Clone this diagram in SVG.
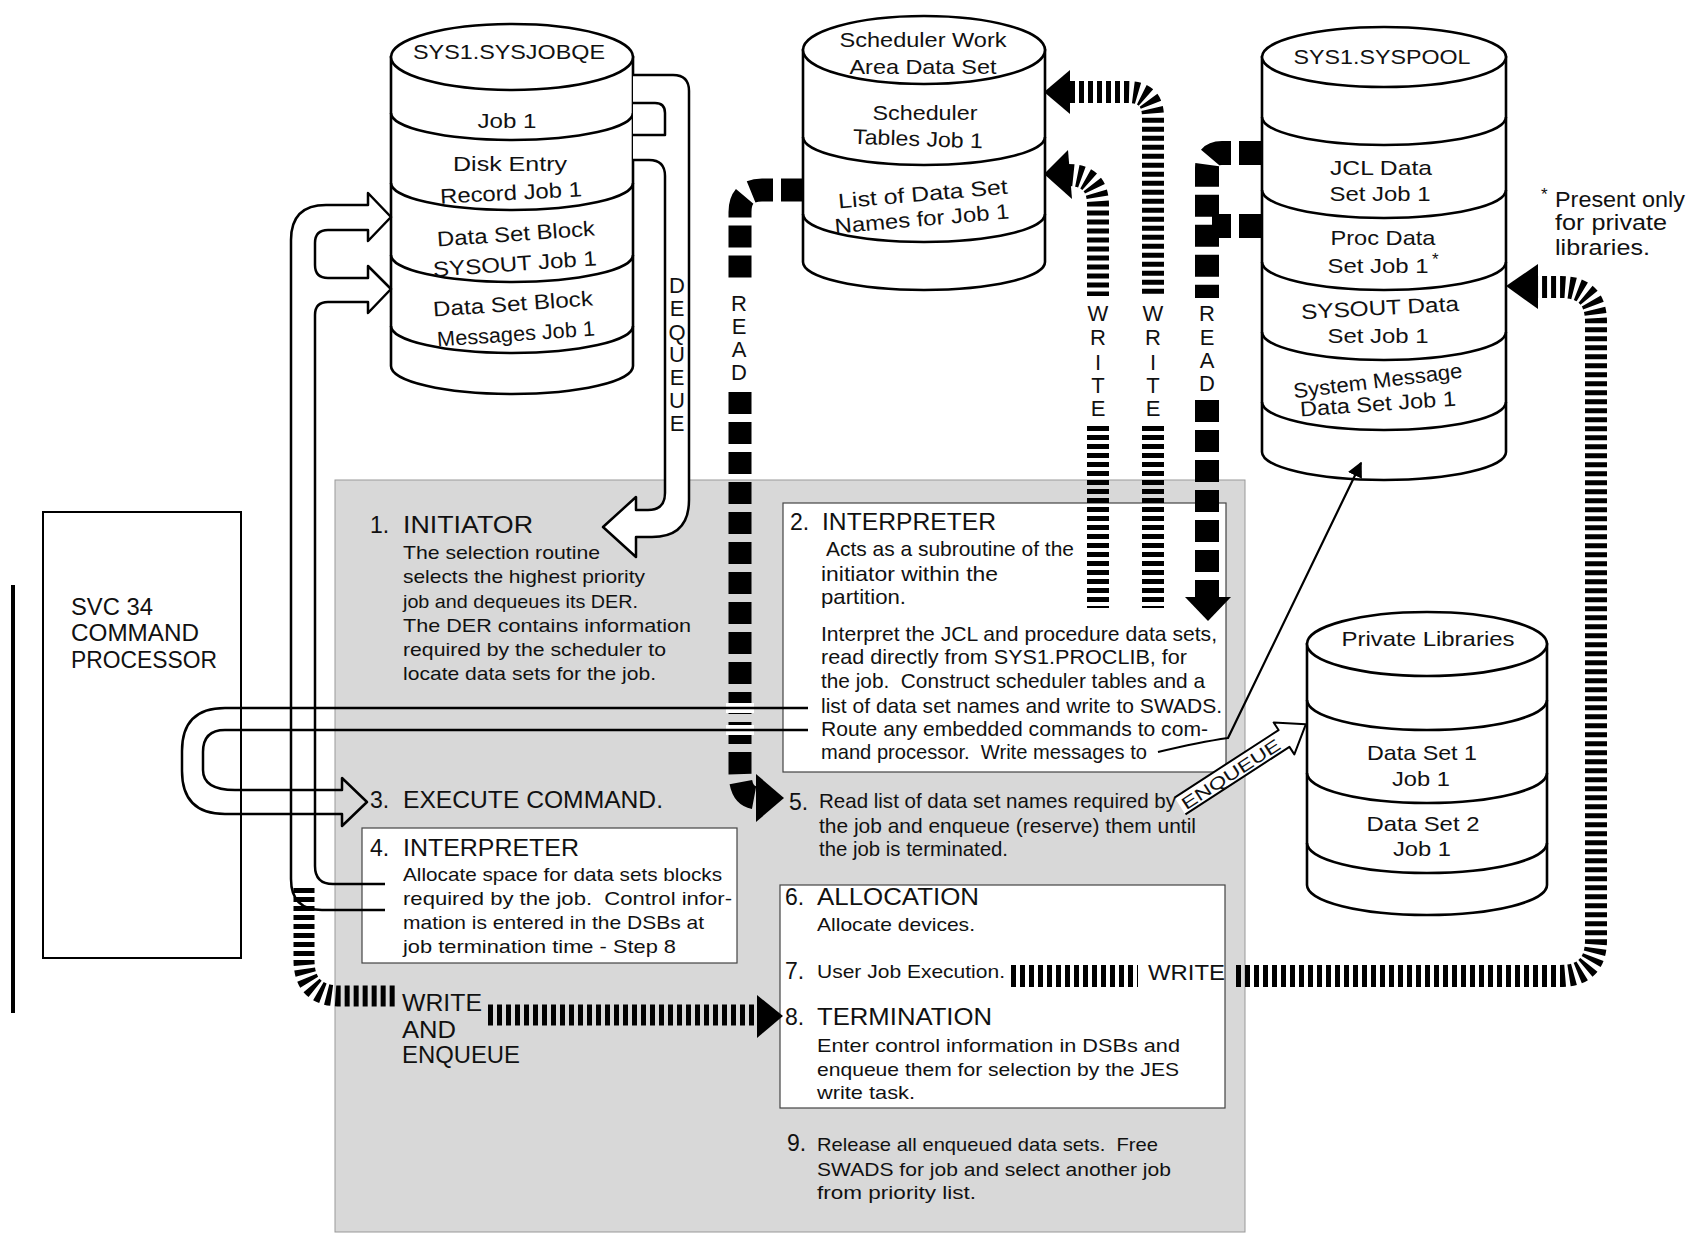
<svg xmlns="http://www.w3.org/2000/svg" width="1708" height="1233" viewBox="0 0 1708 1233">
<defs>
<style>
text { font-family: "Liberation Sans", Arial, sans-serif; fill:#111; white-space: pre; }
.c { font-size:19px; }
.w { font-size:21px; }
.h { font-size:23px; }
.cy { font-size:21px; text-anchor:middle; }
.v { font-size:22px; text-anchor:middle; }
.cyl { fill:#fff; stroke:#000; stroke-width:2.6; }
.band { fill:none; stroke:#000; stroke-width:2.6; }
.box { fill:#fff; stroke:#444; stroke-width:1.2; }
.hol { fill:none; stroke:#000; stroke-width:2.5; stroke-linejoin:round; }
.lad { fill:none; stroke:#000; stroke-width:22; stroke-dasharray:5 4; }
.thk { fill:none; stroke:#000; stroke-width:23; stroke-dasharray:22 8; }
.thin { fill:none; stroke:#000; stroke-width:2.2; }
</style>
<marker id="ah" viewBox="0 0 10 10" refX="9" refY="5" markerWidth="7" markerHeight="7" orient="auto">
<path d="M0,0 L10,5 L0,10 z" fill="#000"/>
</marker>
</defs>
<rect width="1708" height="1233" fill="#fff"/>

<g id="panel">
<rect x="335" y="480" width="910" height="752" fill="#d8d8d8" stroke="#999" stroke-width="1"/>
<rect class="box" x="783" y="503" width="443" height="269"/>
<rect class="box" x="362" y="828" width="375" height="135"/>
<rect class="box" x="780" y="885" width="445" height="223"/>
</g>

<g id="svc34">
<line x1="13" y1="585" x2="13" y2="1013" stroke="#000" stroke-width="4"/>
<rect x="43" y="512" width="198" height="446" fill="#fff" stroke="#000" stroke-width="2"/>
<text class="h" x="71" y="615" textLength="82" lengthAdjust="spacingAndGlyphs">SVC 34</text>
<text class="h" x="71" y="641" textLength="128" lengthAdjust="spacingAndGlyphs">COMMAND</text>
<text class="h" x="71" y="668" textLength="146" lengthAdjust="spacingAndGlyphs">PROCESSOR</text>
</g>

<g id="sysjobqe">
<path class="cyl" d="M391,57 V366 A121 28 0 0 0 633,366 V57 Z"/>
<ellipse class="cyl" cx="512" cy="57" rx="121" ry="33"/>
<path class="band" d="M391,113 A121 27 0 0 0 633,113 M391,183 A121 27 0 0 0 633,183 M391,255 A121 27 0 0 0 633,255 M391,326 A121 27 0 0 0 633,326"/>
<text class="cy" x="509" y="59" textLength="192" lengthAdjust="spacingAndGlyphs">SYS1.SYSJOBQE</text>
<text class="cy" x="507" y="128" textLength="59" lengthAdjust="spacingAndGlyphs">Job 1</text>
<text class="cy" x="510" y="171" textLength="114" lengthAdjust="spacingAndGlyphs">Disk Entry</text>
<text class="cy" x="511" y="200" textLength="142" lengthAdjust="spacingAndGlyphs" transform="rotate(-3 511 194)">Record Job 1</text>
<text class="cy" x="516" y="241" textLength="158" lengthAdjust="spacingAndGlyphs" transform="rotate(-4 516 235)">Data Set Block</text>
<text class="cy" x="515" y="271" textLength="164" lengthAdjust="spacingAndGlyphs" transform="rotate(-4 515 265)">SYSOUT Job 1</text>
<text class="cy" x="513" y="311" textLength="160" lengthAdjust="spacingAndGlyphs" transform="rotate(-4 513 305)">Data Set Block</text>
<text class="cy" x="516" y="341" textLength="158" lengthAdjust="spacingAndGlyphs" transform="rotate(-4 516 335)">Messages Job 1</text>
</g>

<g id="swads">
<path class="cyl" d="M803,50 V262 A121 28 0 0 0 1045,262 V50 Z"/>
<ellipse class="cyl" cx="924" cy="50" rx="121" ry="34"/>
<path class="band" d="M803,137 A121 28 0 0 0 1045,137 M803,214 A121 28 0 0 0 1045,214"/>
<text class="cy" x="923" y="47" textLength="167" lengthAdjust="spacingAndGlyphs">Scheduler Work</text>
<text class="cy" x="923" y="74" textLength="147" lengthAdjust="spacingAndGlyphs">Area Data Set</text>
<text class="cy" x="925" y="120" textLength="105" lengthAdjust="spacingAndGlyphs">Scheduler</text>
<text class="cy" x="918" y="146" textLength="130" lengthAdjust="spacingAndGlyphs" transform="rotate(2 918 140)">Tables Job 1</text>
<text class="cy" x="923" y="201" textLength="170" lengthAdjust="spacingAndGlyphs" transform="rotate(-5 923 195)">List of Data Set</text>
<text class="cy" x="922" y="226" textLength="175" lengthAdjust="spacingAndGlyphs" transform="rotate(-5 922 220)">Names for Job 1</text>
</g>

<g id="syspool">
<path class="cyl" d="M1262,57 V452 A122 28 0 0 0 1506,452 V57 Z"/>
<ellipse class="cyl" cx="1384" cy="57" rx="122" ry="30"/>
<path class="band" d="M1262,117 A122 28 0 0 0 1506,117 M1262,190 A122 28 0 0 0 1506,190 M1262,262 A122 28 0 0 0 1506,262 M1262,332 A122 28 0 0 0 1506,332 M1262,402 A122 28 0 0 0 1506,402"/>
<text class="cy" x="1382" y="64" textLength="177" lengthAdjust="spacingAndGlyphs">SYS1.SYSPOOL</text>
<text class="cy" x="1381" y="175" textLength="102" lengthAdjust="spacingAndGlyphs">JCL Data</text>
<text class="cy" x="1380" y="201" textLength="101" lengthAdjust="spacingAndGlyphs">Set Job 1</text>
<text class="cy" x="1383" y="245" textLength="105" lengthAdjust="spacingAndGlyphs">Proc Data</text>
<text class="cy" x="1378" y="273" textLength="101" lengthAdjust="spacingAndGlyphs">Set Job 1</text>
<text x="1432" y="265" font-size="17">*</text>
<text class="cy" x="1380" y="315" textLength="158" lengthAdjust="spacingAndGlyphs" transform="rotate(-3 1380 309)">SYSOUT Data</text>
<text class="cy" x="1378" y="343" textLength="101" lengthAdjust="spacingAndGlyphs">Set Job 1</text>
<text class="cy" x="1378" y="388" textLength="170" lengthAdjust="spacingAndGlyphs" transform="rotate(-7 1378 382)">System Message</text>
<text class="cy" x="1378" y="411" textLength="156" lengthAdjust="spacingAndGlyphs" transform="rotate(-4 1378 405)">Data Set Job 1</text>
</g>

<g id="note">
<text x="1541" y="200" font-size="17">*</text>
<text x="1555" y="207" font-size="22" textLength="130" lengthAdjust="spacingAndGlyphs">Present only</text>
<text x="1555" y="230" font-size="22" textLength="112" lengthAdjust="spacingAndGlyphs">for private</text>
<text x="1555" y="255" font-size="22" textLength="95" lengthAdjust="spacingAndGlyphs">libraries.</text>
</g>

<g id="private">
<path class="cyl" d="M1307,644 V885 A120 30 0 0 0 1547,885 V644 Z"/>
<ellipse class="cyl" cx="1427" cy="644" rx="120" ry="32"/>
<path class="band" d="M1307,700 A120 30 0 0 0 1547,700 M1307,773 A120 30 0 0 0 1547,773 M1307,843 A120 30 0 0 0 1547,843"/>
<text class="cy" x="1428" y="646" textLength="173" lengthAdjust="spacingAndGlyphs">Private Libraries</text>
<text class="cy" x="1422" y="760" textLength="110" lengthAdjust="spacingAndGlyphs">Data Set 1</text>
<text class="cy" x="1421" y="786" textLength="58" lengthAdjust="spacingAndGlyphs">Job 1</text>
<text class="cy" x="1423" y="831" textLength="113" lengthAdjust="spacingAndGlyphs">Data Set 2</text>
<text class="cy" x="1422" y="856" textLength="58" lengthAdjust="spacingAndGlyphs">Job 1</text>
</g>

<g id="connectors">
<path class="hol" style="fill:#fff" d="M633,75 H673 Q689,75 689,91 V500 Q689,537 652,537 H636 V557 L603,527 L636,497 V510 H648 Q665,510 665,493 V176 Q665,160 649,160 H633"/>
<path class="hol" d="M633,103 H655 Q665,103 665,113 V135 H633"/>
<path class="hol" d="M385,910 H322 Q291,910 291,879 V240 Q291,205 326,205 H368 V193 L391,217 L368,241 V230 H328 Q315,230 315,243 V265 Q315,278 328,278 H368 V266 L391,289 L368,313 V302 H328 Q315,302 315,315 V866 Q315,884 333,884 H385"/>
<path class="thk" d="M803,190 H762 Q740,190 740,212 V283 M740,392 V772 Q740,798 758,798"/>
<polygon points="756,774 784,798 756,822" fill="#000"/>
<rect x="726" y="703" width="28" height="10" fill="#fff"/>
<rect x="726" y="725" width="28" height="10" fill="#fff"/>
<path class="hol" d="M808,708 H225 Q182,708 182,751 V771 Q182,814 225,814 H342 V826 L367,802 L342,778 V790 H235 Q203,790 203,770 V752 Q203,730 225,730 H808"/>
<path class="lad" d="M1070,92 H1128 Q1153,92 1153,117 V296 M1153,426 V608"/>
<polygon points="1070,70 1044,92 1070,114" fill="#000"/>
<path class="lad" d="M1068,175 Q1098,175 1098,205 V296 M1098,426 V608"/>
<polygon points="1068,150 1044,174 1072,199" fill="#000"/>
<path class="thk" style="stroke-width:24" d="M1261,153 H1222 Q1207,153 1207,168 V298 M1207,400 V597 M1261,226 H1212"/>
<polygon points="1185,597 1231,597 1208,621" fill="#000"/>
<path class="thin" d="M1158,752 Q1200,742 1228,738 L1361,463" marker-end="url(#ah)"/>
<path class="lad" d="M1011,976 H1138 M1236,976 H1560 Q1596,976 1596,940 V322 Q1596,287 1561,287 H1537"/>
<polygon points="1538,264 1506,286 1538,309" fill="#000"/>
<path class="lad" style="stroke-width:21" d="M304,888 V960 Q304,996 340,996 H398 M488,1015 H758"/>
<polygon points="757,995 783,1016 757,1038" fill="#000"/>
<g transform="translate(1180,806) rotate(-33)">
<path d="M0,-10 H124 V-19 L150,0 L124,19 V10 H0 Z" fill="#fff"/>
<path class="hol" style="stroke-width:2" d="M0,-10 H124 V-19 L150,0 L124,19 V10 H0"/>
<text x="3" y="7" font-size="17" textLength="114" lengthAdjust="spacingAndGlyphs">ENQUEUE</text>
</g>
</g>

<g id="vlabels">
<text class="v" x="677" y="293">D</text><text class="v" x="677" y="316">E</text><text class="v" x="677" y="340">Q</text><text class="v" x="677" y="362">U</text><text class="v" x="677" y="385">E</text><text class="v" x="677" y="408">U</text><text class="v" x="677" y="431">E</text>
<text class="v" x="739" y="311">R</text><text class="v" x="739" y="334">E</text><text class="v" x="739" y="357">A</text><text class="v" x="739" y="380">D</text>
<text class="v" x="1098" y="321">W</text><text class="v" x="1098" y="345">R</text><text class="v" x="1098" y="370">I</text><text class="v" x="1098" y="393">T</text><text class="v" x="1098" y="416">E</text>
<text class="v" x="1153" y="321">W</text><text class="v" x="1153" y="345">R</text><text class="v" x="1153" y="370">I</text><text class="v" x="1153" y="393">T</text><text class="v" x="1153" y="416">E</text>
<text class="v" x="1207" y="321">R</text><text class="v" x="1207" y="345">E</text><text class="v" x="1207" y="368">A</text><text class="v" x="1207" y="391">D</text>
</g>

<g id="step1">
<text class="h" x="370" y="533">1.</text>
<text class="h" x="403" y="533" textLength="130" lengthAdjust="spacingAndGlyphs">INITIATOR</text>
<text class="c" x="403" y="559" textLength="197" lengthAdjust="spacingAndGlyphs">The selection routine</text>
<text class="c" x="403" y="583" textLength="242" lengthAdjust="spacingAndGlyphs">selects the highest priority</text>
<text class="c" x="403" y="608" textLength="235" lengthAdjust="spacingAndGlyphs">job and dequeues its DER.</text>
<text class="c" x="403" y="632" textLength="288" lengthAdjust="spacingAndGlyphs">The DER contains information</text>
<text class="c" x="403" y="656" textLength="263" lengthAdjust="spacingAndGlyphs">required by the scheduler to</text>
<text class="c" x="403" y="680" textLength="253" lengthAdjust="spacingAndGlyphs">locate data sets for the job.</text>
</g>

<g id="step2">
<text class="h" x="790" y="530">2.</text>
<text class="h" x="822" y="530" textLength="174" lengthAdjust="spacingAndGlyphs">INTERPRETER</text>
<text class="w" x="826" y="556" textLength="248" lengthAdjust="spacingAndGlyphs">Acts as a subroutine of the</text>
<text class="w" x="821" y="581" textLength="177" lengthAdjust="spacingAndGlyphs">initiator within the</text>
<text class="w" x="821" y="604" textLength="85" lengthAdjust="spacingAndGlyphs">partition.</text>
<text class="w" x="821" y="641" textLength="396" lengthAdjust="spacingAndGlyphs">Interpret the JCL and procedure data sets,</text>
<text class="w" x="821" y="664" textLength="366" lengthAdjust="spacingAndGlyphs">read directly from SYS1.PROCLIB, for</text>
<text class="w" x="821" y="688" textLength="384" lengthAdjust="spacingAndGlyphs">the job.  Construct scheduler tables and a</text>
<text class="w" x="821" y="713" textLength="401" lengthAdjust="spacingAndGlyphs">list of data set names and write to SWADS.</text>
<text class="w" x="821" y="736" textLength="387" lengthAdjust="spacingAndGlyphs">Route any embedded commands to com-</text>
<text class="w" x="821" y="759" textLength="326" lengthAdjust="spacingAndGlyphs">mand processor.  Write messages to</text>
</g>

<g id="step3">
<text class="h" x="370" y="808">3.</text>
<text class="h" x="403" y="808" textLength="260" lengthAdjust="spacingAndGlyphs">EXECUTE COMMAND.</text>
</g>

<g id="step4">
<text class="h" x="370" y="856">4.</text>
<text class="h" x="403" y="856" textLength="176" lengthAdjust="spacingAndGlyphs">INTERPRETER</text>
<text class="c" x="403" y="881" textLength="319" lengthAdjust="spacingAndGlyphs">Allocate space for data sets blocks</text>
<text class="c" x="403" y="905" textLength="329" lengthAdjust="spacingAndGlyphs">required by the job.  Control infor-</text>
<text class="c" x="403" y="929" textLength="301" lengthAdjust="spacingAndGlyphs">mation is entered in the DSBs at</text>
<text class="c" x="403" y="953" textLength="273" lengthAdjust="spacingAndGlyphs">job termination time - Step 8</text>
</g>

<g id="step5">
<text class="h" x="789" y="810">5.</text>
<text class="w" x="819" y="808" textLength="357" lengthAdjust="spacingAndGlyphs">Read list of data set names required by</text>
<text class="w" x="819" y="833" textLength="377" lengthAdjust="spacingAndGlyphs">the job and enqueue (reserve) them until</text>
<text class="w" x="819" y="856" textLength="189" lengthAdjust="spacingAndGlyphs">the job is terminated.</text>
</g>

<g id="step6">
<text class="h" x="785" y="905">6.</text>
<text class="h" x="817" y="905" textLength="162" lengthAdjust="spacingAndGlyphs">ALLOCATION</text>
<text class="c" x="817" y="931" textLength="158" lengthAdjust="spacingAndGlyphs">Allocate devices.</text>
</g>

<g id="step7">
<text class="h" x="785" y="979">7.</text>
<text class="c" x="817" y="978" textLength="188" lengthAdjust="spacingAndGlyphs">User Job Execution.</text>
<text x="1148" y="980" font-size="22" textLength="77" lengthAdjust="spacingAndGlyphs">WRITE</text>
</g>

<g id="step8">
<text class="h" x="785" y="1025">8.</text>
<text class="h" x="817" y="1025" textLength="175" lengthAdjust="spacingAndGlyphs">TERMINATION</text>
<text class="c" x="817" y="1052" textLength="363" lengthAdjust="spacingAndGlyphs">Enter control information in DSBs and</text>
<text class="c" x="817" y="1076" textLength="362" lengthAdjust="spacingAndGlyphs">enqueue them for selection by the JES</text>
<text class="c" x="817" y="1099" textLength="98" lengthAdjust="spacingAndGlyphs">write task.</text>
</g>

<g id="step9">
<text class="h" x="787" y="1151">9.</text>
<text class="c" x="817" y="1151" textLength="341" lengthAdjust="spacingAndGlyphs">Release all enqueued data sets.  Free</text>
<text class="c" x="817" y="1176" textLength="354" lengthAdjust="spacingAndGlyphs">SWADS for job and select another job</text>
<text class="c" x="817" y="1199" textLength="159" lengthAdjust="spacingAndGlyphs">from priority list.</text>
</g>

<g id="write-enqueue-label">
<text class="h" x="402" y="1011" textLength="80" lengthAdjust="spacingAndGlyphs">WRITE</text>
<text class="h" x="402" y="1038" textLength="54" lengthAdjust="spacingAndGlyphs">AND</text>
<text class="h" x="402" y="1063" textLength="118" lengthAdjust="spacingAndGlyphs">ENQUEUE</text>
</g>
</svg>
